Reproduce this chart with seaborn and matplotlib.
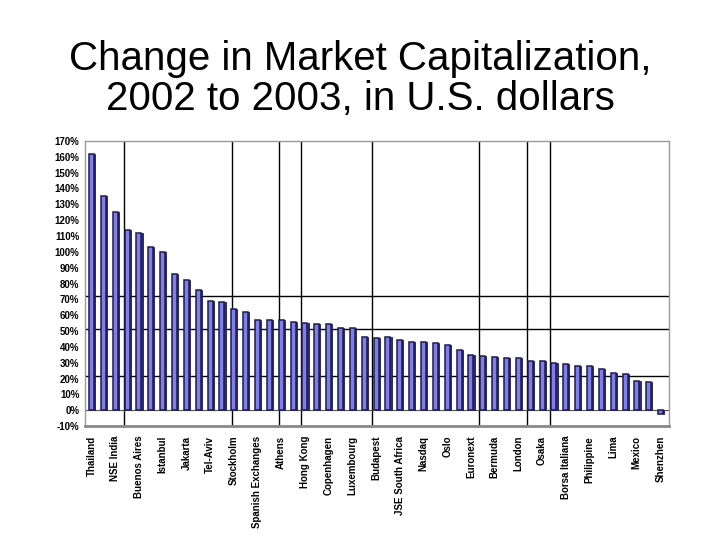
import matplotlib
matplotlib.use("Agg")
import matplotlib.pyplot as plt
import numpy as np
import pandas as pd
import seaborn as sns

# exchanges, in the order of the bars (only every other one is labelled)
exchanges = ["Thailand", "NSE India", "Buenos Aires", "Istanbul", "Jakarta",
             "Tel-Aviv", "Stockholm", "Spanish Exchanges", "Athens", "Hong Kong",
             "Copenhagen", "Luxembourg", "Budapest", "JSE South Africa", "Nasdaq",
             "Oslo", "Euronext", "Bermuda", "London", "Osaka", "Borsa Italiana",
             "Philippine", "Lima", "Mexico", "Shenzhen"]

# change in market cap, percent, one value per bar (49 bars)
change_pct = [162, 135, 125, 114, 112, 103, 100, 86, 82, 76,
              69, 68.5, 64, 62, 57, 57, 57, 56, 55, 54.5,
              54.5, 52, 52, 46.5, 45.7, 46, 44.6, 43, 43, 42.5,
              41, 38, 35, 34, 33.6, 33, 33, 31, 31, 30,
              29, 28, 27.7, 26, 23.7, 22.8, 18.6, 17.8, -2.5]

bar_pos = list(range(len(change_pct)))
yticks = list(range(-10, 171, 10))

# stray lines on the original slide
vlines_at = [2.74, 11.83, 15.8, 17.7, 23.7, 32.7, 36.7, 38.7]
hlines_at = [72, 51, 21.6]

df = pd.DataFrame({"pos": bar_pos, "change": change_pct})

sns.set_style("white")
plt.rcParams["font.family"] = ["Liberation Sans", "DejaVu Sans"]

fig = plt.figure(figsize=(7.2, 5.4), dpi=100)
ax = fig.add_axes([0.118, 0.211, 0.811, 0.528])

for v in vlines_at:
    ax.axvline(v, color="black", lw=1.0, zorder=1)
for h in hlines_at:
    ax.axhline(h, color="black", lw=1.0, zorder=1)

sns.barplot(data=df, x="pos", y="change", order=bar_pos, color="#7f7fea",
            saturation=1, width=0.42, edgecolor="#1c1c50", linewidth=1.1,
            ax=ax, zorder=3)

# darker right side of each bar for the 3-D look
for p in ax.patches:
    x0, y0 = p.get_x(), p.get_y()
    w, h = p.get_width(), p.get_height()
    ax.add_patch(plt.Rectangle((x0 + w, y0), 0.1, h, facecolor="#2c2c78",
                               edgecolor="#1c1c50", lw=0.6, zorder=3))

ax.axhline(0, color="#555555", lw=0.8, zorder=2)

ax.set_ylim(-10, 170)
ax.set_xlim(-0.55, 48.7)
ax.set_yticks(yticks)
ax.set_yticklabels([f"{t}%" for t in yticks], fontsize=7, fontweight="bold",
                   color="black")
ax.set_xticks(bar_pos[::2])
ax.set_xticklabels(exchanges, rotation=90, fontsize=7, fontweight="bold",
                   color="black")
ax.set_xlabel("")
ax.set_ylabel("")
ax.tick_params(axis="y", length=2, pad=2, color="#666666")
ax.tick_params(axis="x", length=3, pad=4, color="#666666")

for side in ["left", "top", "right"]:
    ax.spines[side].set_color("#999999")
    ax.spines[side].set_linewidth(1.0)
ax.spines["bottom"].set_color("#888888")
ax.spines["bottom"].set_linewidth(2.0)

fig.text(0.5, 0.925, "Change in Market Capitalization,\n2002 to 2003, in U.S. dollars",
         ha="center", va="top", fontsize=29, linespacing=1.05, color="black")

fig.savefig("out.png", dpi=100, facecolor="white")
